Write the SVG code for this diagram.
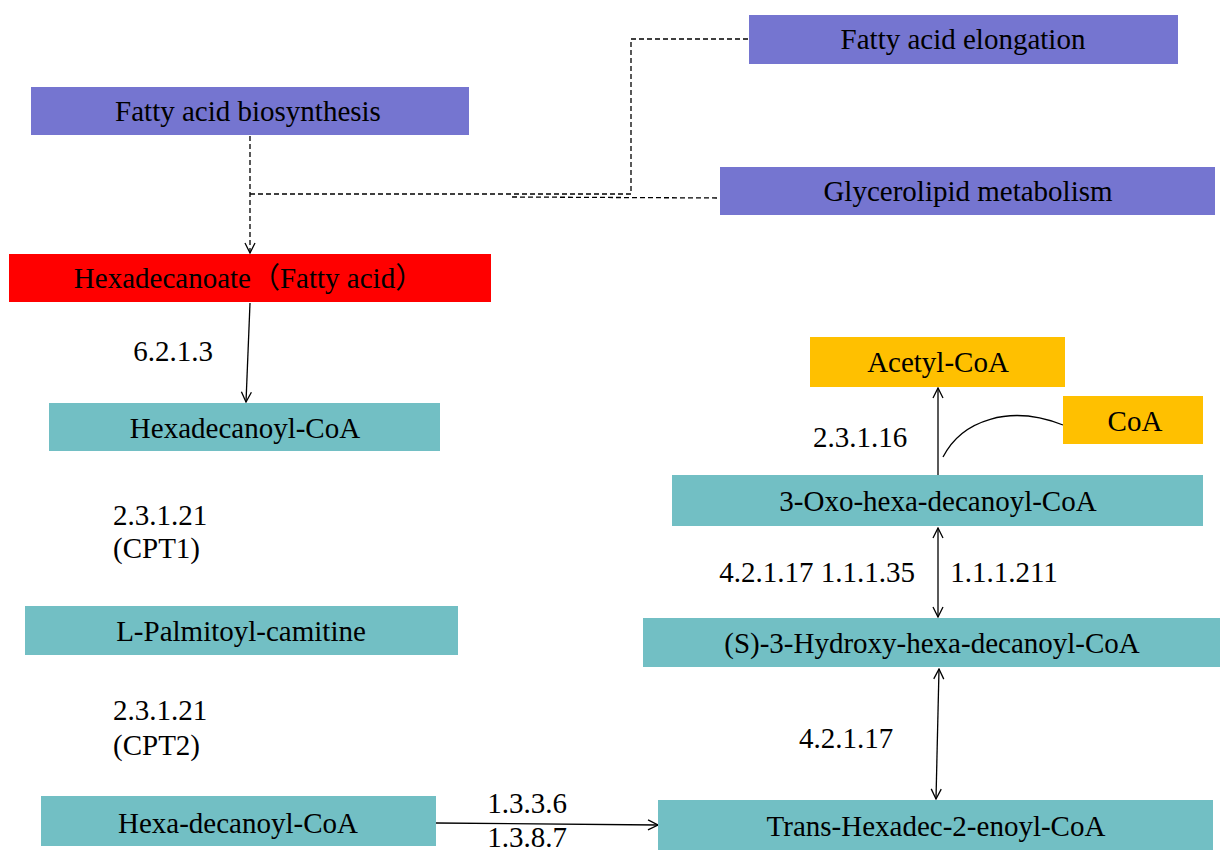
<svg xmlns="http://www.w3.org/2000/svg" width="1220" height="850" viewBox="0 0 1220 850">
<style>
.t{font-family:"Liberation Serif","Noto Sans CJK SC",serif;font-size:29px;fill:#000}
.c{text-anchor:middle}
.pw{fill:#7575D0}
.tl{fill:#72BFC4}
.og{fill:#FFC000}
.rd{fill:#FF0000}
.ln{fill:none;stroke:#000;stroke-width:1.3}
.ds{fill:none;stroke:#000;stroke-width:1.3;stroke-dasharray:5,3}
</style>
<defs>
<marker id="ah" viewBox="0 0 12 12" refX="11" refY="6" markerWidth="12" markerHeight="12" markerUnits="userSpaceOnUse" orient="auto-start-reverse">
<path d="M1,1 L11,6 L1,11" fill="none" stroke="#000" stroke-width="1.3"/>
</marker>
</defs>
<rect width="1220" height="850" fill="#fff"/>
<g id="connectors">
<path class="ds" d="M250,136 L250,253" marker-end="url(#ah)"/>
<path class="ds" d="M250,194 L631,194 L631,39 L749,39"/>
<path class="ds" d="M512,197 L720,198"/>
<path class="ln" d="M250,303 L246,402" marker-end="url(#ah)"/>
<path class="ln" d="M938,475 L938,388" marker-end="url(#ah)"/>
<path class="ln" d="M943,457 C962,420 1010,404 1063,425"/>
<path class="ln" d="M938,528 L938,617" marker-start="url(#ah)" marker-end="url(#ah)"/>
<path class="ln" d="M939,669 L936,799" marker-start="url(#ah)" marker-end="url(#ah)"/>
<path class="ln" d="M436,823 L658,825" marker-end="url(#ah)"/>
</g>
<g id="n-elongation"><rect class="pw" x="749" y="15" width="429" height="49"/><text class="t c" x="963" y="49">Fatty acid elongation</text></g>
<g id="n-biosynthesis"><rect class="pw" x="31" y="87" width="438" height="48"/><text class="t c" x="248" y="121">Fatty acid biosynthesis</text></g>
<g id="n-glycerolipid"><rect class="pw" x="720" y="167" width="495" height="48"/><text class="t c" x="968" y="201">Glycerolipid metabolism</text></g>
<g id="n-hexadecanoate"><rect class="rd" x="9" y="254" width="482" height="48"/><text class="t c" x="249" y="288">Hexadecanoate（Fatty acid）</text></g>
<g id="n-hexadecanoyl"><rect class="tl" x="49" y="403" width="391" height="48"/><text class="t c" x="245" y="438">Hexadecanoyl-CoA</text></g>
<g id="n-palmitoyl"><rect class="tl" x="25" y="606" width="433" height="49"/><text class="t c" x="241" y="641">L-Palmitoyl-camitine</text></g>
<g id="n-hexadecanoyl2"><rect class="tl" x="41" y="796" width="395" height="50"/><text class="t c" x="238" y="833">Hexa-decanoyl-CoA</text></g>
<g id="n-acetyl"><rect class="og" x="810" y="337" width="255" height="50"/><text class="t c" x="938" y="372">Acetyl-CoA</text></g>
<g id="n-coa"><rect class="og" x="1063" y="396" width="140" height="48"/><text class="t c" x="1135" y="431">CoA</text></g>
<g id="n-oxo"><rect class="tl" x="672" y="475" width="531" height="51"/><text class="t c" x="938" y="511">3-Oxo-hexa-decanoyl-CoA</text></g>
<g id="n-hydroxy"><rect class="tl" x="643" y="618" width="577" height="49"/><text class="t c" x="932" y="653">(S)-3-Hydroxy-hexa-decanoyl-CoA</text></g>
<g id="n-trans"><rect class="tl" x="658" y="800" width="555" height="50"/><text class="t c" x="936" y="836">Trans-Hexadec-2-enoyl-CoA</text></g>
<g id="labels">
<text class="t c" x="173" y="361">6.2.1.3</text>
<text class="t" x="113" y="525">2.3.1.21</text>
<text class="t" x="113" y="558">(CPT1)</text>
<text class="t" x="113" y="720">2.3.1.21</text>
<text class="t" x="113" y="755">(CPT2)</text>
<text class="t c" x="860" y="447">2.3.1.16</text>
<text class="t c" x="817" y="582">4.2.1.17 1.1.1.35</text>
<text class="t c" x="1004" y="582">1.1.1.211</text>
<text class="t c" x="846" y="748">4.2.1.17</text>
<text class="t c" x="527" y="813">1.3.3.6</text>
<text class="t c" x="527" y="847">1.3.8.7</text>
</g>
</svg>
